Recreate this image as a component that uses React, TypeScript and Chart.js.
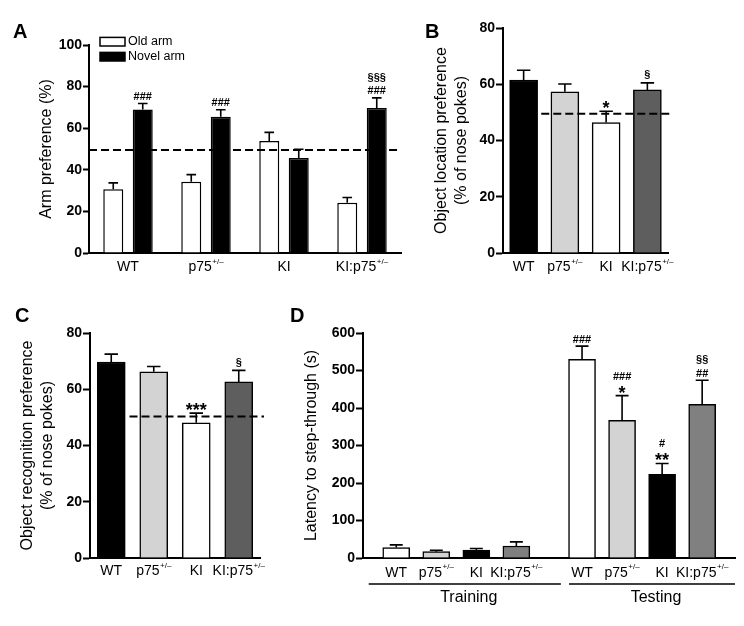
import React, { useEffect, useRef } from 'react';
import { Chart, registerables } from 'chart.js';

Chart.register(...registerables);

const FONT = '"Liberation Sans", Arial, Helvetica, sans-serif';
Chart.defaults.font.family = FONT;
Chart.defaults.color = '#000';

const W = 744;
const H = 626;

// ---------- Panel A: arm preference ----------
const armCategories = ['WT', 'p75+/–', 'KI', 'KI:p75+/–'];
const armSeries = ['Old arm', 'Novel arm'];
const oldArm = [30.7, 34.2, 53.8, 24.1];
const oldArmSem = [3.0, 3.5, 4.2, 2.6];
const novelArm = [69.0, 65.5, 45.7, 69.7];
const novelArmSem = [2.9, 3.4, 4.2, 4.9];
const oldArmMarks: string[][] = [[], [], [], []];
const novelArmMarks: string[][] = [['###'], ['###'], [], ['###', '§§§']];
const armChance = 49.5;

// ---------- Panel B: object location ----------
const genotypes = ['WT', 'p75+/–', 'KI', 'KI:p75+/–'];
const locationPref = [61.5, 57.3, 46.4, 58.0];
const locationSem = [3.5, 2.8, 4.0, 2.5];
const locationMarks: string[][] = [[], [], ['*'], ['§']];
const locationChance = 49.5;

// ---------- Panel C: object recognition ----------
const recognitionPref = [69.7, 66.2, 48.1, 62.6];
const recognitionSem = [2.8, 1.9, 3.4, 4.1];
const recognitionMarks: string[][] = [[], [], ['***'], ['§']];
const recognitionChance = 50.3;

// ---------- Panel D: passive avoidance ----------
const phases = ['Training', 'Testing'];
const latencyTraining = [28, 17, 21, 32];
const latencyTrainingSem = [7, 3.6, 4.5, 11];
const latencyTrainingMarks: string[][] = [[], [], [], []];
const latencyTesting = [530, 367, 223, 410];
const latencyTestingSem = [35, 66, 29, 64];
const latencyTestingMarks: string[][] = [['###'], ['*', '###'], ['**', '#'], ['##', '§§']];

const colorsBC = ['#000000', '#d3d3d3', '#ffffff', '#5e5e5e'];
const colorsD = ['#ffffff', '#d3d3d3', '#000000', '#808080'];

// ---------- layout ----------
type Panel = {
  letter: string; letterX: number; letterY: number;
  left: number; top: number; right: number; bottom: number;
  titleX: number; yTitle: string | string[];
  yMax: number; yStep: number; tickLen: number;
  labelBaseline: number;
};

const PA: Panel = { letter: 'A', letterX: 13, letterY: 38, left: 89, top: 45, right: 401, bottom: 253, titleX: 47, yTitle: 'Arm preference (%)', yMax: 100, yStep: 20, tickLen: 6, labelBaseline: 271 };
const PB: Panel = { letter: 'B', letterX: 425, letterY: 38, left: 503, top: 28, right: 668, bottom: 253, titleX: 442, yTitle: ['Object location preference', '(% of nose pokes)'], yMax: 80, yStep: 20, tickLen: 7, labelBaseline: 271 };
const PC: Panel = { letter: 'C', letterX: 15, letterY: 322, left: 90, top: 333, right: 260, bottom: 558, titleX: 28, yTitle: ['Object recognition preference', '(% of nose pokes)'], yMax: 80, yStep: 20, tickLen: 7, labelBaseline: 575 };
const PD: Panel = { letter: 'D', letterX: 290, letterY: 322, left: 363, top: 333, right: 735, bottom: 558, titleX: 312, yTitle: 'Latency to step-through (s)', yMax: 600, yStep: 100, tickLen: 7, labelBaseline: 576.5 };

const TEST_OFFSET = 4.64; // slot position of first testing bar
const D_MIN = -0.83;
const D_MAX = 8.46;

function baseOptions(p: Panel, x: any): any {
  const padLeft = p.titleX - 10;
  return {
    responsive: false,
    animation: false,
    events: [],
    layout: { padding: { left: padLeft, top: p.top, right: W - p.right, bottom: 0 } },
    plugins: { legend: { display: false }, tooltip: { enabled: false }, title: { display: false } },
    scales: {
      x: {
        ...x,
        ticks: { display: false },
        grid: { display: false },
        border: { display: true, color: '#000', width: 2 },
        afterFit: (s: any) => { s.height = H - p.bottom; },
      },
      y: {
        min: 0,
        max: p.yMax,
        ticks: { stepSize: p.yStep, font: { size: 14, weight: 'bold' }, color: '#000', padding: 1 },
        grid: { display: true, drawOnChartArea: false, drawTicks: true, tickLength: p.tickLen, tickColor: '#000', tickWidth: 2 },
        border: { display: true, color: '#000', width: 2 },
        title: { display: true, text: p.yTitle, color: '#000', font: { size: 16, lineHeight: 1.25 }, padding: { top: 0, bottom: 0 } },
        afterFit: (s: any) => { s.width = p.left - padLeft; },
      },
    },
  };
}

function drawMark(ctx: CanvasRenderingContext2D, text: string, cx: number, cy: number) {
  const star = text.includes('*');
  const sect = text.includes('§');
  const size = star ? 18 : 11;
  ctx.font = `bold ${size}px ${FONT}`;
  ctx.textAlign = 'center';
  ctx.textBaseline = 'alphabetic';
  const k = star ? 0.58 : sect ? 0.27 : 0.36;
  ctx.fillText(text, cx, cy + k * size);
}

function drawErrors(chart: any, dsIndex: number, sems: number[], marks: string[][]) {
  const ctx = chart.ctx as CanvasRenderingContext2D;
  const meta = chart.getDatasetMeta(dsIndex);
  const ys = chart.scales.y;
  meta.data.forEach((bar: any, i: number) => {
    const p = bar.getProps(['x', 'y', 'width'], true);
    const v = meta.controller.getParsed(i).y;
    const capY = ys.getPixelForValue(v + sems[i]);
    const half = p.width * 0.24;
    ctx.strokeStyle = '#000';
    ctx.lineWidth = 1.6;
    ctx.setLineDash([]);
    ctx.beginPath();
    ctx.moveTo(p.x, p.y);
    ctx.lineTo(p.x, capY);
    ctx.moveTo(p.x - half, capY);
    ctx.lineTo(p.x + half, capY);
    ctx.stroke();
    ctx.fillStyle = '#000';
    let cy = capY - 7.5;
    (marks[i] || []).forEach((m) => {
      drawMark(ctx, m, p.x, cy);
      cy -= 12.5;
    });
  });
}

function drawCatLabel(ctx: CanvasRenderingContext2D, text: string, cx: number, baseline: number) {
  const SUP = '+/–';
  let base = text;
  let sup = '';
  if (text.endsWith(SUP)) { base = text.slice(0, -SUP.length); sup = SUP; }
  ctx.font = `14px ${FONT}`;
  const wb = ctx.measureText(base).width;
  ctx.font = `8px ${FONT}`;
  const ws = sup ? ctx.measureText(sup).width + 0.5 : 0;
  const x0 = cx - (wb + ws) / 2;
  ctx.textAlign = 'left';
  ctx.textBaseline = 'alphabetic';
  ctx.fillStyle = '#000';
  ctx.font = `14px ${FONT}`;
  ctx.fillText(base, x0, baseline);
  if (sup) {
    ctx.font = `8px ${FONT}`;
    ctx.fillText(sup, x0 + wb + 0.5, baseline - 7.5);
  }
}

function drawRefLine(chart: any, value: number, x1: number, x2: number) {
  const ctx = chart.ctx as CanvasRenderingContext2D;
  const y = chart.scales.y.getPixelForValue(value);
  ctx.save();
  ctx.strokeStyle = '#000';
  ctx.lineWidth = 2;
  ctx.setLineDash([8, 4]);
  ctx.beginPath();
  ctx.moveTo(x1, y);
  ctx.lineTo(x2, y);
  ctx.stroke();
  ctx.restore();
}

function drawLetter(ctx: CanvasRenderingContext2D, p: Panel) {
  ctx.font = `bold 20px ${FONT}`;
  ctx.textAlign = 'left';
  ctx.textBaseline = 'alphabetic';
  ctx.fillStyle = '#000';
  ctx.fillText(p.letter, p.letterX, p.letterY);
}

// ---------- chart builders ----------
function buildA(canvas: HTMLCanvasElement) {
  const p = PA;
  const opts = baseOptions(p, { type: 'category', offset: true });
  opts.datasets = { bar: { categoryPercentage: 0.756, barPercentage: 0.678 } };
  return new Chart(canvas, {
    type: 'bar',
    data: {
      labels: armCategories,
      datasets: [
        { label: armSeries[0], data: oldArm, backgroundColor: '#ffffff', borderColor: '#000', borderWidth: 1.5 },
        { label: armSeries[1], data: novelArm, backgroundColor: '#000000', borderColor: '#000', borderWidth: 1.5 },
      ],
    },
    options: opts,
    plugins: [{
      id: 'decorA',
      afterDatasetsDraw(chart: any) {
        const ctx = chart.ctx;
        const ca = chart.chartArea;
        ctx.save();
        drawRefLine(chart, armChance, ca.left, ca.right);
        drawErrors(chart, 0, oldArmSem, oldArmMarks);
        drawErrors(chart, 1, novelArmSem, novelArmMarks);
        const xs = chart.scales.x;
        armCategories.forEach((c, i) => drawCatLabel(ctx, c, xs.getPixelForValue(i), p.labelBaseline));
        // legend
        chart.data.datasets.forEach((ds: any, i: number) => {
          const cy = ca.top - 3.3 + i * 15;
          ctx.fillStyle = ds.backgroundColor;
          ctx.strokeStyle = '#000';
          ctx.lineWidth = 1.5;
          ctx.fillRect(ca.left + 11, cy - 4.3, 25, 8.6);
          ctx.strokeRect(ca.left + 11, cy - 4.3, 25, 8.6);
          ctx.fillStyle = '#000';
          ctx.font = `12.5px ${FONT}`;
          ctx.textAlign = 'left';
          ctx.textBaseline = 'middle';
          ctx.fillText(ds.label, ca.left + 39, cy);
        });
        drawLetter(ctx, p);
        ctx.restore();
      },
    }],
  } as any);
}

function buildSingle(canvas: HTMLCanvasElement, p: Panel, values: number[], sems: number[], marks: string[][], chance: number, id: string) {
  const opts = baseOptions(p, { type: 'category', offset: true });
  return new Chart(canvas, {
    type: 'bar',
    data: {
      labels: genotypes,
      datasets: [{ data: values, backgroundColor: colorsBC, borderColor: '#000', borderWidth: 1.5, barThickness: 28 }],
    },
    options: opts,
    plugins: [{
      id,
      afterDatasetsDraw(chart: any) {
        const ctx = chart.ctx;
        const ca = chart.chartArea;
        const xs = chart.scales.x;
        ctx.save();
        drawRefLine(chart, chance, xs.getPixelForValue(0.5) - 3, ca.right + 4);
        drawErrors(chart, 0, sems, marks);
        genotypes.forEach((c, i) => drawCatLabel(ctx, c, xs.getPixelForValue(i), p.labelBaseline));
        drawLetter(ctx, p);
        ctx.restore();
      },
    }],
  } as any);
}

function buildD(canvas: HTMLCanvasElement) {
  const p = PD;
  const opts = baseOptions(p, { type: 'linear', min: D_MIN, max: D_MAX, offset: false });
  opts.datasets = { bar: { grouped: false, barThickness: 27 } };
  return new Chart(canvas, {
    type: 'bar',
    data: {
      datasets: [
        { label: phases[0], data: latencyTraining.map((v, i) => ({ x: i, y: v })), backgroundColor: colorsD, borderColor: '#000', borderWidth: 1.5 },
        { label: phases[1], data: latencyTesting.map((v, i) => ({ x: TEST_OFFSET + i, y: v })), backgroundColor: colorsD, borderColor: '#000', borderWidth: 1.5 },
      ],
    },
    options: opts,
    plugins: [{
      id: 'decorD',
      afterDatasetsDraw(chart: any) {
        const ctx = chart.ctx;
        const ca = chart.chartArea;
        ctx.save();
        drawErrors(chart, 0, latencyTrainingSem, latencyTrainingMarks);
        drawErrors(chart, 1, latencyTestingSem, latencyTestingMarks);
        [0, 1].forEach((d) => {
          const meta = chart.getDatasetMeta(d);
          meta.data.forEach((bar: any, i: number) => drawCatLabel(ctx, genotypes[i], bar.x, p.labelBaseline));
          const first = meta.data[0].x;
          const last = meta.data[meta.data.length - 1].x;
          const x1 = d === 0 ? first - 27.5 : first - 13;
          const x2 = d === 0 ? last + 44.5 : ca.right;
          ctx.strokeStyle = '#000';
          ctx.lineWidth = 1.3;
          ctx.beginPath();
          ctx.moveTo(x1, 584);
          ctx.lineTo(x2, 584);
          ctx.stroke();
          ctx.fillStyle = '#000';
          ctx.font = `16px ${FONT}`;
          ctx.textAlign = 'center';
          ctx.textBaseline = 'alphabetic';
          ctx.fillText(phases[d], (x1 + x2) / 2 + 4, 601.5);
        });
        drawLetter(ctx, p);
        ctx.restore();
      },
    }],
  } as any);
}

function PanelCanvas({ build }: { build: (c: HTMLCanvasElement) => Chart }) {
  const ref = useRef<HTMLCanvasElement>(null);
  useEffect(() => {
    if (!ref.current) return;
    const chart = build(ref.current);
    return () => chart.destroy();
  }, [build]);
  return (
    <canvas
      ref={ref}
      width={W}
      height={H}
      style={{ position: 'absolute', left: 0, top: 0, width: W, height: H }}
    />
  );
}

const buildB = (c: HTMLCanvasElement) => buildSingle(c, PB, locationPref, locationSem, locationMarks, locationChance, 'decorB');
const buildC = (c: HTMLCanvasElement) => buildSingle(c, PC, recognitionPref, recognitionSem, recognitionMarks, recognitionChance, 'decorC');

export default function App() {
  return (
    <div style={{ position: 'absolute', left: 0, top: 0, width: W, height: H, background: '#fff', overflow: 'hidden' }}>
      <PanelCanvas build={buildA} />
      <PanelCanvas build={buildB} />
      <PanelCanvas build={buildC} />
      <PanelCanvas build={buildD} />
    </div>
  );
}
